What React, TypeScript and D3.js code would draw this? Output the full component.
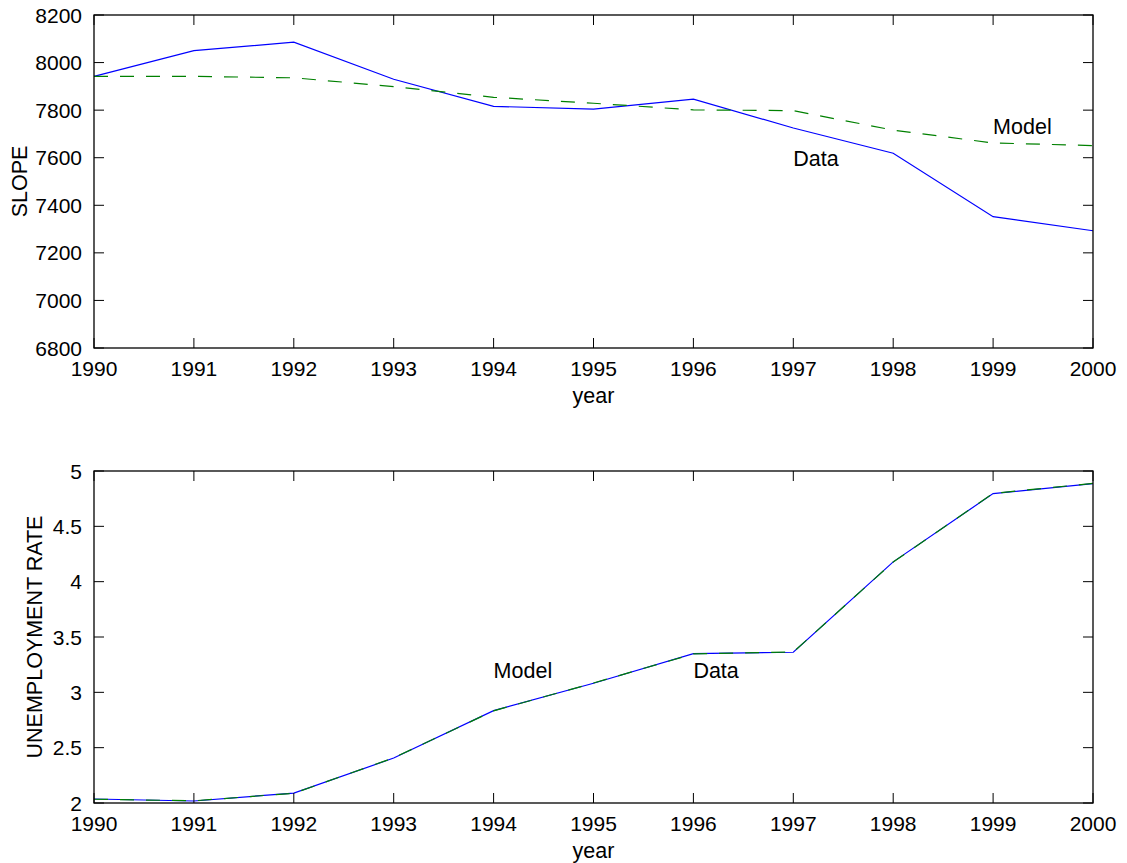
import React from "react";
import * as d3 from "d3";

const years = [1990, 1991, 1992, 1993, 1994, 1995, 1996, 1997, 1998, 1999, 2000];
const slopeData = [7942, 8050, 8086, 7930, 7816, 7804, 7846, 7725, 7619, 7352, 7293];
const slopeModel = [7942, 7942, 7936, 7899, 7854, 7829, 7801, 7798, 7716, 7662, 7651];
const unempData = [2.036, 2.018, 2.09, 2.406, 2.835, 3.082, 3.349, 3.362, 4.179, 4.796, 4.886];
const unempModel = [2.034, 2.02, 2.088, 2.408, 2.833, 3.084, 3.347, 3.364, 4.177, 4.798, 4.888];
const xTicks = years;
const slopeTicks = [6800, 7000, 7200, 7400, 7600, 7800, 8000, 8200];
const unempTicks = [2, 2.5, 3, 3.5, 4, 4.5, 5];
const slopeLabels = [
  { text: "Model", x: 1999, y: 7730 },
  { text: "Data", x: 1997, y: 7595 },
];
const unempLabels = [
  { text: "Model", x: 1994, y: 3.19 },
  { text: "Data", x: 1996, y: 3.19 },
];

const W = 1127;
const H = 863;
const FONT = "'Liberation Sans', Arial, Helvetica, sans-serif";
const FS = 21.5;
const TFS = 21;

type PanelProps = {
  top: number;
  bottom: number;
  yDomain: [number, number];
  yTicks: number[];
  data: number[];
  model: number[];
  labels: { text: string; x: number; y: number }[];
  ylabel: string;
  ylabelX: number;
};

function Panel({ top, bottom, yDomain, yTicks, data, model, labels, ylabel, ylabelX }: PanelProps) {
  const left = 94;
  const right = 1093;
  const x = d3.scaleLinear().domain([1990, 2000]).range([left, right]);
  const y = d3.scaleLinear().domain(yDomain).range([bottom, top]);
  const line = d3
    .line<number>()
    .x((_, i) => x(years[i]))
    .y((d) => y(d));
  const tl = 10;
  const fmt = (v: number) => String(v);
  return (
    <g>
      <rect x={left} y={top} width={right - left} height={bottom - top} fill="white" />
      <path d={line(data) || ""} fill="none" stroke="#0000ff" strokeWidth={1.2} />
      <path d={line(model) || ""} fill="none" stroke="#008000" strokeWidth={1.2} strokeDasharray="14,12" />
      {labels.map((l, i) => (
        <text key={i} x={x(l.x)} y={y(l.y)} dominantBaseline="central" fontSize={FS} fontFamily={FONT} fill="#000">
          {l.text}
        </text>
      ))}
      {xTicks.map((t) => (
        <g key={"x" + t}>
          <line x1={x(t)} x2={x(t)} y1={bottom} y2={bottom - tl} stroke="#000" strokeWidth={1} />
          <line x1={x(t)} x2={x(t)} y1={top} y2={top + tl} stroke="#000" strokeWidth={1} />
          <text x={x(t)} y={bottom + 28} textAnchor="middle" fontSize={TFS} fontFamily={FONT} fill="#000">
            {t}
          </text>
        </g>
      ))}
      {yTicks.map((t) => (
        <g key={"y" + t}>
          <line x1={left} x2={left + tl} y1={y(t)} y2={y(t)} stroke="#000" strokeWidth={1} />
          <line x1={right} x2={right - tl} y1={y(t)} y2={y(t)} stroke="#000" strokeWidth={1} />
          <text x={left - 12} y={y(t)} textAnchor="end" dominantBaseline="central" fontSize={TFS} fontFamily={FONT} fill="#000">
            {fmt(t)}
          </text>
        </g>
      ))}
      <rect x={left} y={top} width={right - left} height={bottom - top} fill="none" stroke="#000" strokeWidth={1.3} />
      <text x={(left + right) / 2} y={bottom + 55} textAnchor="middle" fontSize={FS} fontFamily={FONT} fill="#000">
        year
      </text>
      <text
        transform={`translate(${ylabelX},${(top + bottom) / 2}) rotate(-90)`}
        textAnchor="middle"
        fontSize={FS}
        fontFamily={FONT}
        fill="#000"
      >
        {ylabel}
      </text>
    </g>
  );
}

export default function App() {
  return (
    <svg
      width={W}
      height={H}
      style={{ position: "absolute", left: 0, top: 0, display: "block", background: "white" }}
    >
      <rect x={0} y={0} width={W} height={H} fill="white" />
      <Panel
        top={15}
        bottom={348}
        yDomain={[6800, 8200]}
        yTicks={slopeTicks}
        data={slopeData}
        model={slopeModel}
        labels={slopeLabels}
        ylabel="SLOPE"
        ylabelX={27}
      />
      <Panel
        top={471}
        bottom={803}
        yDomain={[2, 5]}
        yTicks={unempTicks}
        data={unempData}
        model={unempModel}
        labels={unempLabels}
        ylabel="UNEMPLOYMENT RATE"
        ylabelX={42}
      />
    </svg>
  );
}
